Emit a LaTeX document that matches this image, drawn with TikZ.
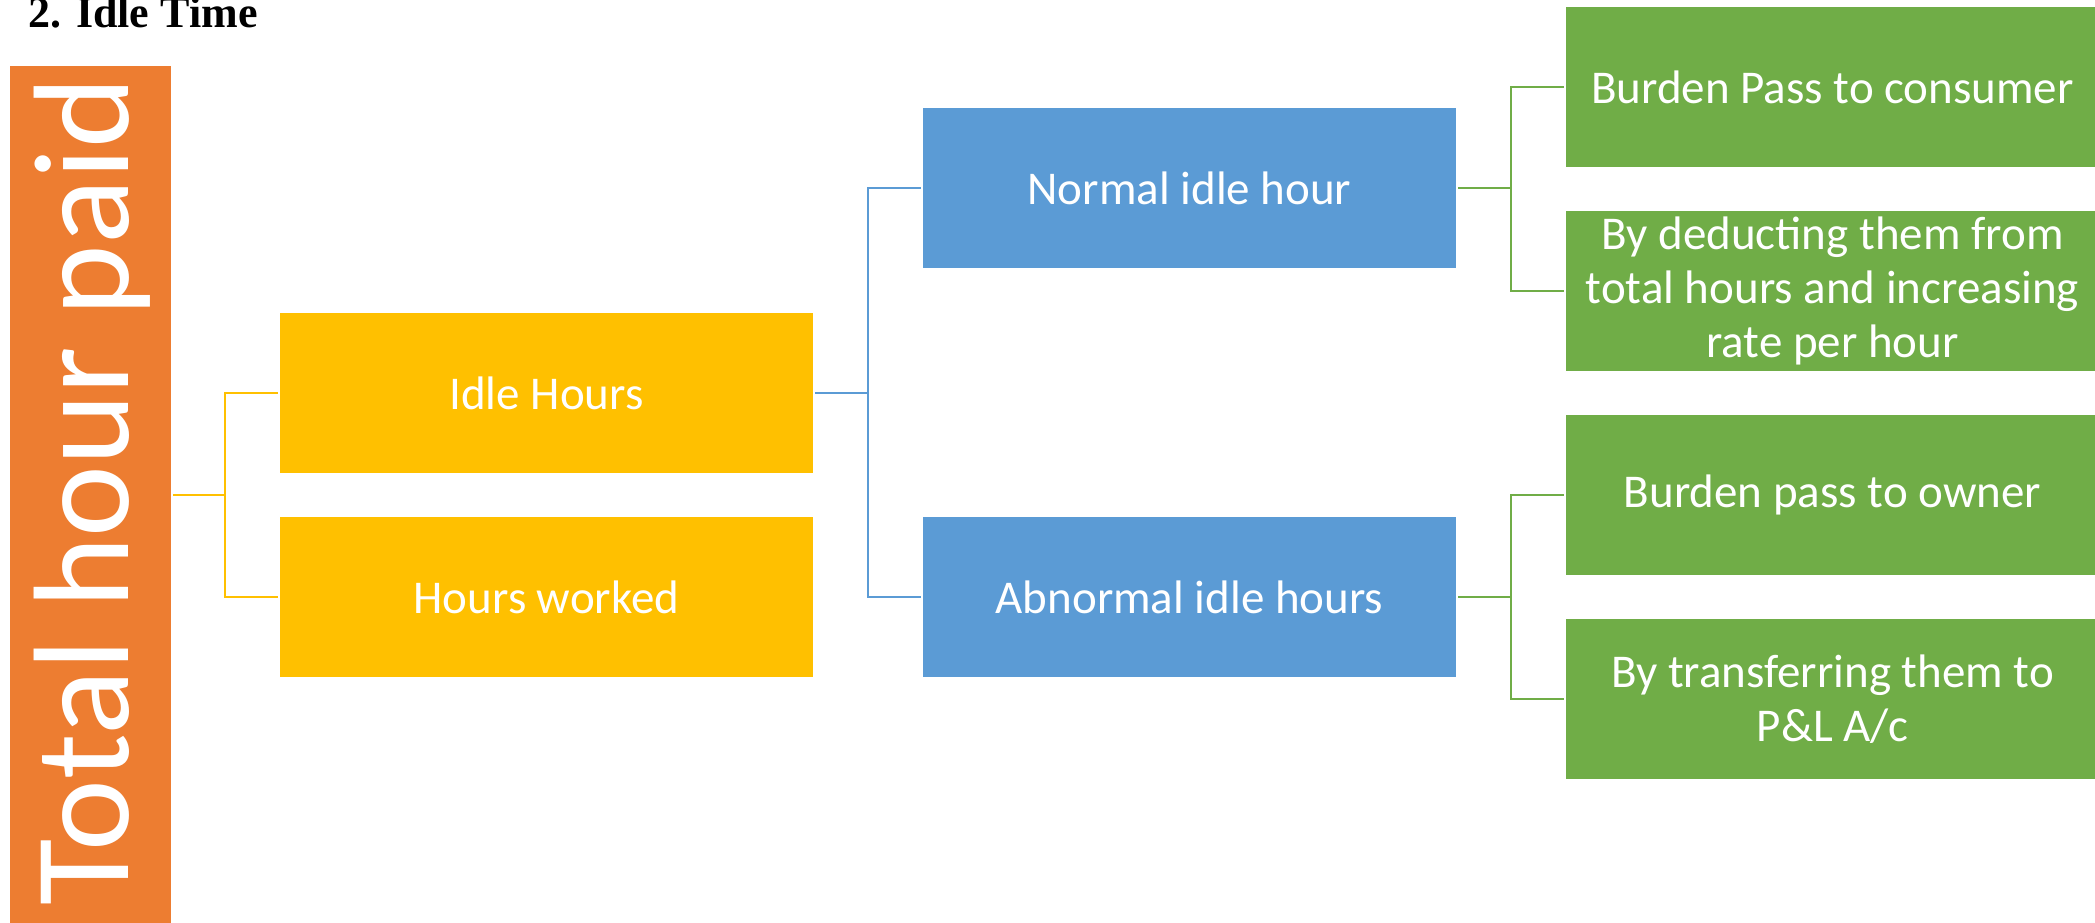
\documentclass[tikz,border=0pt]{standalone}
\usepackage{fontspec}
\setmainfont{Carlito}
\newfontfamily\headfont{Liberation Serif}
\definecolor{stemorange}{HTML}{ED7D31}
\definecolor{idleyellow}{HTML}{FFC000}
\definecolor{idleblue}{HTML}{5B9BD5}
\definecolor{idlegreen}{HTML}{70AD47}

\begin{document}
\begin{tikzpicture}[x=1pt,y=-1pt,
        box/.style={rectangle, inner sep=0pt, minimum width=533pt, minimum height=160pt,
          text=white, align=center, font=\fontsize{47}{54}\selectfont},
        link/.style={line width=2pt}]
        \useasboundingbox (0,0) rectangle (2095,922);
        \node [anchor=base west, font=\headfont\bfseries\fontsize{44}{50}\selectfont] (title) at (25,27) {2. Idle Time};
        % root
        \node [rectangle, fill=stemorange, inner sep=0pt, minimum width=161pt, minimum height=858pt] (total) at (90.5,495) {};
        \node [rotate=90, anchor=base, text=white, inner sep=0pt, font=\fontsize{136}{140}\selectfont] (totaltext) at ([xshift=37.5pt,yshift=4pt]total.center) {Total hour paid};
        % level 1
        \node [box, fill=idleyellow] (idle) at (546.5,393) {Idle Hours};
        \node [box, fill=idleyellow] (worked) at (546.5,597) {Hours worked};
        % level 2
        \node [box, fill=idleblue] (normal) at (1189.5,188) {Normal idle hour};
        \node [box, fill=idleblue] (abnormal) at (1189.5,597) {Abnormal idle hours};
        % level 3
        \node [box, fill=idlegreen] (consumer) at (1832.5,87) {Burden Pass to consumer};
        \node [box, fill=idlegreen] (deduct) at (1832.5,291) {By deducting them from\\total hours and increasing\\rate per hour};
        \node [box, fill=idlegreen] (owner) at (1832.5,495) {Burden pass to owner};
        \node [box, fill=idlegreen] (transfer) at (1832.5,699) {By transferring them to\\P\&L A/c};
        % connectors
        \draw [link, idleyellow] ([xshift=2pt]total.east) -- ([xshift=54pt]total.east) |- ([xshift=-2pt]idle.west);
        \draw [link, idleyellow] ([xshift=54pt]total.east) |- ([xshift=-2pt]worked.west);
        \draw [link, idleblue] ([xshift=2pt]idle.east) -- ([xshift=55pt]idle.east) |- ([xshift=-2pt]normal.west);
        \draw [link, idleblue] ([xshift=55pt]idle.east) |- ([xshift=-2pt]abnormal.west);
        \draw [link, idlegreen] ([xshift=2pt]normal.east) -- ([xshift=55pt]normal.east) |- ([xshift=-2pt]consumer.west);
        \draw [link, idlegreen] ([xshift=55pt]normal.east) |- ([xshift=-2pt]deduct.west);
        \draw [link, idlegreen] ([xshift=2pt]abnormal.east) -- ([xshift=55pt]abnormal.east) |- ([xshift=-2pt]owner.west);
        \draw [link, idlegreen] ([xshift=55pt]abnormal.east) |- ([xshift=-2pt]transfer.west);
\end{tikzpicture}
\end{document}
